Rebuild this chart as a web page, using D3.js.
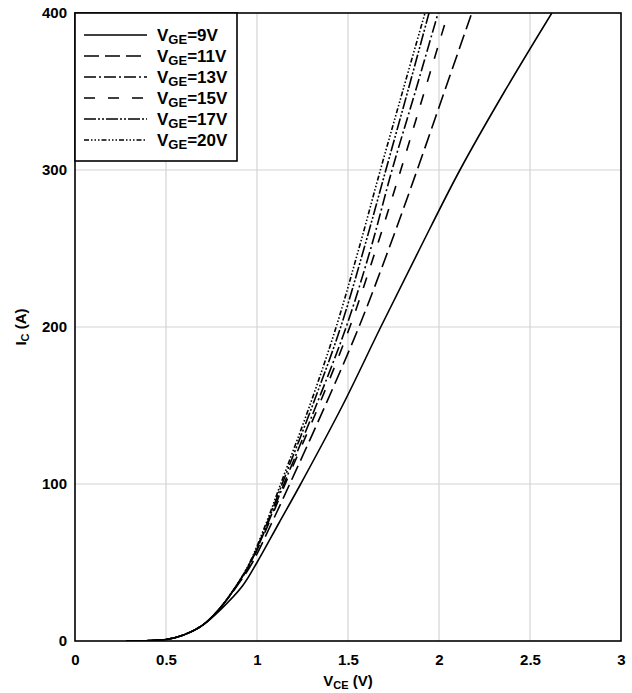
<!DOCTYPE html>
<html>
<head>
<meta charset="utf-8">
<script src="https://cdn.jsdelivr.net/npm/d3@7"></script>
<style>
body { margin: 0; background: #fff; }
text { font-family: "Liberation Sans", Arial, sans-serif; font-weight: bold; fill: #000; }
</style>
</head>
<body>
<div id="chart"></div>
<script>
var width = 632, height = 693,
margin = {top: 13, right: 11, bottom: 52, left: 75}

// collector current points (A), shared by all curves
var currents = [0, 1, 4, 10, 20, 35, 50, 75, 100, 150, 200, 250, 300, 350, 400]
// VCE (V) at each current, one list per gate voltage
var vce9  = [0.28, 0.50, 0.60, 0.70, 0.80, 0.92, 1.00, 1.12, 1.24, 1.47, 1.68, 1.895, 2.115, 2.36, 2.62]
var vce11 = [0.28, 0.50, 0.60, 0.70, 0.79, 0.89, 0.975, 1.08, 1.18, 1.375, 1.56, 1.725, 1.88, 2.03, 2.18]
var vce13 = [0.28, 0.50, 0.60, 0.70, 0.79, 0.886, 0.965, 1.06, 1.148, 1.325, 1.49, 1.625, 1.742, 1.87, 1.995]
var vce15 = [0.28, 0.50, 0.60, 0.70, 0.79, 0.887, 0.967, 1.065, 1.155, 1.34, 1.51, 1.655, 1.79, 1.92, 2.05]
var vce17 = [0.28, 0.50, 0.60, 0.70, 0.79, 0.885, 0.962, 1.055, 1.138, 1.305, 1.46, 1.588, 1.708, 1.828, 1.945]
var vce20 = [0.29, 0.50, 0.60, 0.70, 0.79, 0.885, 0.96, 1.05, 1.13, 1.29, 1.435, 1.56, 1.678, 1.80, 1.923]

var gateLabels = ["9V", "11V", "13V", "15V", "17V", "20V"]
var xTicks = [0, 0.5, 1, 1.5, 2, 2.5, 3]
var yTicks = [0, 100, 200, 300, 400]

var dashes = [null, "15,6", "12,3,2,3", "11,13", "12,2,2,2,2,2", "5,2,1.5,2,1.5,2,1.5,2"]

var series = [vce9, vce11, vce13, vce15, vce17, vce20].map(function(v, i) {
  return {label: gateLabels[i], dash: dashes[i],
    points: currents.map(function(c, j) { return [v[j], c] })}
})

var svg = d3.select("#chart").append("svg")
  .attr("width", width)
  .attr("height", height)

var x = d3.scaleLinear().domain([0, 3]).range([margin.left, width - margin.right])
var y = d3.scaleLinear().domain([0, 400]).range([height - margin.bottom, margin.top])

// grid
svg.append("g").selectAll("line")
  .data(xTicks.slice(1, -1))
  .enter().append("line")
    .attr("x1", function(d) { return x(d) }).attr("x2", function(d) { return x(d) })
    .attr("y1", y(0)).attr("y2", y(400))
    .attr("stroke", "#d4d4d4").attr("stroke-width", 1.2)
svg.append("g").selectAll("line")
  .data(yTicks.slice(1, -1))
  .enter().append("line")
    .attr("y1", function(d) { return y(d) }).attr("y2", function(d) { return y(d) })
    .attr("x1", x(0)).attr("x2", x(3))
    .attr("stroke", "#d4d4d4").attr("stroke-width", 1.2)

svg.append("clipPath").attr("id", "clip")
  .append("rect")
  .attr("x", x(0)).attr("y", y(400))
  .attr("width", x(3) - x(0)).attr("height", y(0) - y(400))

var line = d3.line()
  .x(function(d) { return x(d[0]) })
  .y(function(d) { return y(d[1]) })
  .curve(d3.curveCatmullRom.alpha(0.5))

svg.append("g")
  .attr("clip-path", "url(#clip)")
  .selectAll("path")
  .data(series)
  .enter().append("path")
    .attr("d", function(d) { return line(d.points) })
    .attr("fill", "none")
    .attr("stroke", "#000")
    .attr("stroke-width", 1.6)
    .attr("stroke-dasharray", function(d) { return d.dash })

// frame
svg.append("rect")
  .attr("x", x(0)).attr("y", y(400))
  .attr("width", x(3) - x(0)).attr("height", y(0) - y(400))
  .attr("fill", "none").attr("stroke", "#000").attr("stroke-width", 1.6)

// axes (labels only)
var xAxis = d3.axisBottom(x).tickValues(xTicks).tickSize(0).tickPadding(13)
  .tickFormat(function(d) { return d })
svg.append("g")
  .attr("transform", "translate(0," + y(0) + ")")
  .call(xAxis)
  .call(function(g) { g.select(".domain").remove() })
  .selectAll("text").style("font-size", "15px")
    .style("font-family", "'Liberation Sans', Arial, sans-serif").style("font-weight", "bold")

var yAxis = d3.axisLeft(y).tickValues(yTicks).tickSize(0).tickPadding(8)
svg.append("g")
  .attr("transform", "translate(" + x(0) + ",0)")
  .call(yAxis)
  .call(function(g) { g.select(".domain").remove() })
  .selectAll("text").style("font-size", "15px")
    .style("font-family", "'Liberation Sans', Arial, sans-serif").style("font-weight", "bold")

// axis titles
var xt = svg.append("text")
  .attr("x", (x(0) + x(3)) / 2).attr("y", 686)
  .attr("text-anchor", "middle").style("font-size", "15px")
xt.append("tspan").text("V")
xt.append("tspan").text("CE").style("font-size", "11px").attr("dy", 3)
xt.append("tspan").text(" (V)").attr("dy", -3)

var yt = svg.append("text")
  .attr("transform", "translate(26," + y(200) + ") rotate(-90)")
  .attr("text-anchor", "middle").style("font-size", "15px")
yt.append("tspan").text("I")
yt.append("tspan").text("C").style("font-size", "11px").attr("dy", 3)
yt.append("tspan").text(" (A)").attr("dy", -3)

// legend
var legend = svg.append("g")
legend.append("rect")
  .attr("x", x(0)).attr("y", y(400))
  .attr("width", 162).attr("height", 148)
  .attr("fill", "#fff").attr("stroke", "#000").attr("stroke-width", 1.6)

var item = legend.selectAll("g.item")
  .data(series)
  .enter().append("g")
    .attr("class", "item")
    .attr("transform", function(d, i) { return "translate(" + (x(0) + 9) + "," + (35 + i * 21) + ")" })
item.append("line")
  .attr("x1", 0).attr("x2", 63)
  .attr("stroke", "#000").attr("stroke-width", 1.6)
  .attr("stroke-dasharray", function(d) { return d.dash })
var lt = item.append("text")
  .attr("x", 73).attr("y", 6).style("font-size", "17px")
lt.append("tspan").text("V")
lt.append("tspan").text("GE").style("font-size", "13px").attr("dy", 3)
lt.append("tspan").text(function(d) { return "=" + d.label }).attr("dy", -3)
</script>
</body>
</html>
